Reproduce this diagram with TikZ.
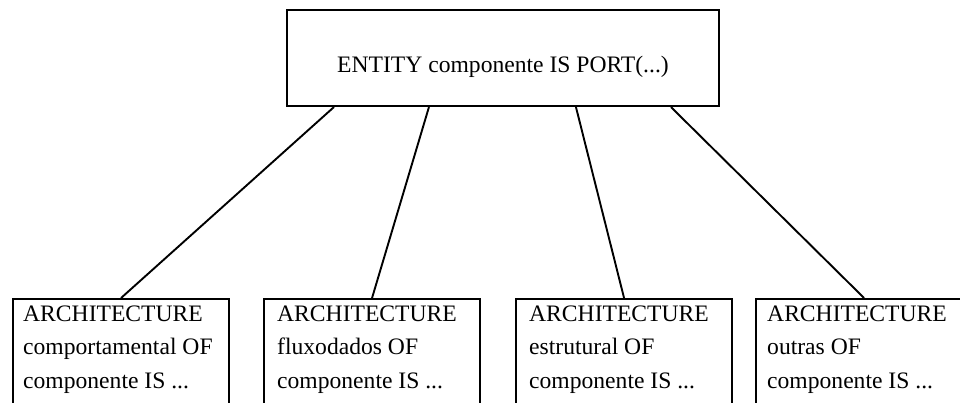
\documentclass[tikz,border=0pt]{standalone}
\usepackage{fontspec}
\setmainfont{Liberation Serif}
\begin{document}
\begin{tikzpicture}[x=1pt, y=-1pt,
  every node/.style={inner sep=0pt},
  txt/.style={font=\fontsize{23.6}{33.5}\selectfont},
  entbox/.style={draw, line width=2.1pt, rectangle, minimum width=432pt, minimum height=96pt},
  archbox/.style={draw, line width=2.1pt, rectangle, anchor=north west, minimum width=216pt, minimum height=140pt},
  archtxt/.style={txt, anchor=north west, align=left},
  link/.style={line width=1.9pt}]
\useasboundingbox (0,0) rectangle (960,403);

% entity declaration
\node[entbox] (ent) at (503,58) {};
\node[txt, anchor=base] (enttxt) at (503,72.7) {ENTITY componente IS PORT(...)};

% architecture bodies (their lower edges run past the page)
\node[archbox] (b1) at (12,298) {};
\node[archbox] (b2) at (263,298) {};
\node[archbox] (b3) at (515,298) {};
\node[archbox] (b4) at (755,298) {};

\node[archtxt] (t1) at ([xshift=11pt,yshift=-7.5pt]b1.north west) {ARCHITECTURE\\comportamental OF\\componente IS ...};
\node[archtxt] (t2) at ([xshift=14pt,yshift=-7.5pt]b2.north west) {ARCHITECTURE\\fluxodados OF\\componente IS ...};
\node[archtxt] (t3) at ([xshift=14pt,yshift=-7.5pt]b3.north west) {ARCHITECTURE\\estrutural OF\\componente IS ...};
\node[archtxt] (t4) at ([xshift=12pt,yshift=-7.5pt]b4.north west) {ARCHITECTURE\\outras OF\\componente IS ...};

% entity to architecture links
\draw[link] ([xshift=48pt]ent.south west) -- (b1.north);
\draw[link] ([xshift=143pt]ent.south west) -- (b2.north);
\draw[link] ([xshift=290pt]ent.south west) -- (b3.north);
\draw[link] ([xshift=385pt]ent.south west) -- (b4.north);
\end{tikzpicture}
\end{document}
